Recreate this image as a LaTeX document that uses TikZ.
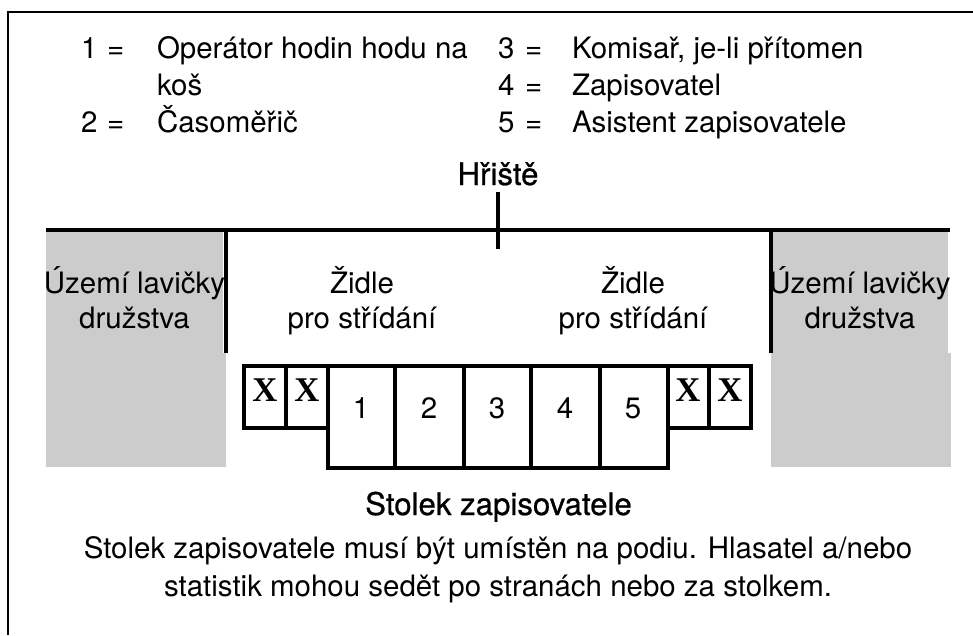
\documentclass[tikz,border=0pt]{standalone}
\usepackage{fontspec}
\setmainfont{TeX Gyre Heros}
\newfontfamily\medfont[FakeBold=0.7]{TeX Gyre Heros}
\newfontfamily\xfont{Liberation Serif}
\definecolor{benchgrey}{HTML}{CCCCCC}
\tikzset{
  txt/.style={inner sep=0pt,outer sep=0pt,anchor=base west,font=\fontsize{22.1pt}{22pt}\selectfont},
  ctr/.style={inner sep=0pt,outer sep=0pt,anchor=base,font=\fontsize{22.1pt}{22pt}\selectfont},
  med/.style={ctr,font=\fontsize{23.4pt}{23pt}\medfont},
  xmark/.style={inner sep=0pt,outer sep=0pt,anchor=base,font=\fontsize{26pt}{26pt}\xfont\bfseries},
  thick line/.style={line width=3pt,line cap=butt},
  cell/.style={draw,line width=3pt,line join=miter},
  frame/.style={line width=1.5pt}
}
\begin{document}
\begin{tikzpicture}[x=0.75pt,y=-0.75pt]
\useasboundingbox (0,0) rectangle (973,635);
% frame
\draw[frame] (973,12) -- (8,12) -- (8,635);
% legend
\node[txt] (n1) at (81,59) {1};
\node[txt] (e1) at (107,59) {=};
\node[txt] (t1) at (157,59) {Operátor hodin hodu na};
\node[txt] (t1b) at (157,95) {koš};
\node[txt] (n2) at (81,132) {2};
\node[txt] (e2) at (107,132) {=};
\node[txt] (t2) at (157,132) {Časoměřič};
\node[txt] (n3) at (498,59) {3};
\node[txt] (e3) at (525,59) {=};
\node[txt] (t3) at (572,59) {Komisař, je-li přítomen};
\node[txt] (n4) at (498,95) {4};
\node[txt] (e4) at (525,95) {=};
\node[txt] (t4) at (572,95) {Zapisovatel};
\node[txt] (n5) at (498,132) {5};
\node[txt] (e5) at (525,132) {=};
\node[txt] (t5) at (572,132) {Asistent zapisovatele};
\node[med] (hr) at (498,185) {Hřiště};
% grey team bench areas
\fill[benchgrey] (46,232) rectangle (223,353);
\fill[benchgrey] (46,353) rectangle (226,467);
\fill[benchgrey] (771,232) rectangle (948,353);
\fill[benchgrey] (771,353) rectangle (951,467);
% lines
\draw[thick line] (46,230) -- (950,230);
\draw[thick line] (498,192) -- (498,249);
\draw[thick line] (226,232) -- (226,353);
\draw[thick line] (771,232) -- (771,353);
% table
\foreach \a/\b in {244/286,286/328,668/709,709/751}
  \draw[cell] (\a,366) rectangle (\b,428);
\foreach \a/\b in {328/395,395/464,464/531,531/600,600/668}
  \draw[cell] (\a,366) rectangle (\b,468);
% labels
\node[ctr] (b1a) at (134.5,293) {Území lavičky};
\node[ctr] (b1b) at (134.5,328) {družstva};
\node[ctr] (c1a) at (362,293) {Židle};
\node[ctr] (c1b) at (362,328) {pro střídání};
\node[ctr] (c2a) at (633,293) {Židle};
\node[ctr] (c2b) at (633,328) {pro střídání};
\node[ctr] (b2a) at (860,293) {Území lavičky};
\node[ctr] (b2b) at (860,328) {družstva};
\node[xmark] (x1) at (265,401) {X};
\node[xmark] (x2) at (307,401) {X};
\node[xmark] (x3) at (688,401) {X};
\node[xmark] (x4) at (730,401) {X};
\node[ctr] (d1) at (361,418) {1};
\node[ctr] (d2) at (429,418) {2};
\node[ctr] (d3) at (497,418) {3};
\node[ctr] (d4) at (565,418) {4};
\node[ctr] (d5) at (633,418) {5};
\node[med] (st) at (498.5,515) {Stolek zapisovatele};
\node[ctr] (l1) at (498,558) {Stolek zapisovatele musí být umístěn na podiu. Hlasatel a/nebo};
\node[ctr] (l2) at (498,596) {statistik mohou sedět po stranách nebo za stolkem.};
\end{tikzpicture}
\end{document}
